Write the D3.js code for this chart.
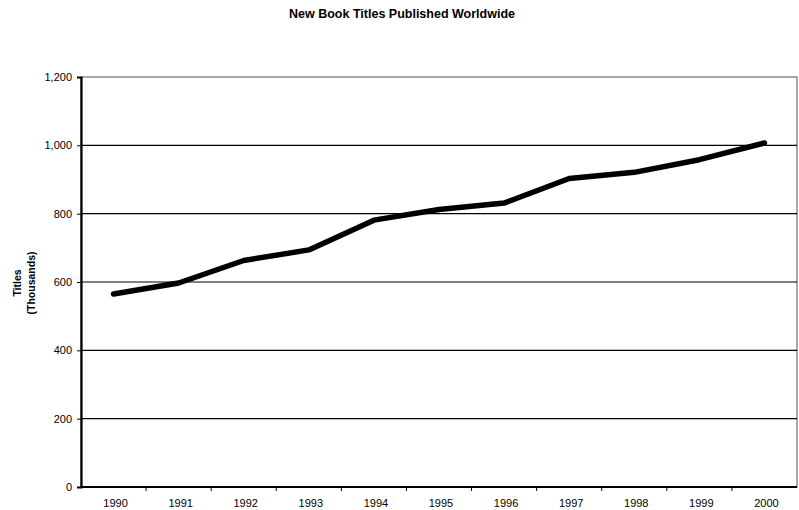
<!DOCTYPE html>
<html>
<head>
<meta charset="utf-8">
<script src="https://cdn.jsdelivr.net/npm/d3@7"></script>
<style>
body { margin: 0; background: #fff; }
text { font-family: Arial, "Liberation Sans", sans-serif; }
</style>
</head>
<body>
<div class="canvas"></div>
<script>
const years = ['1990', '1991', '1992', '1993', '1994', '1995', '1996', '1997', '1998', '1999', '2000'];
const titles = [565, 597, 663, 694, 781, 812, 831, 903, 921, 958, 1007];
const yTicks = [0, 200, 400, 600, 800, 1000, 1200];

const dim = { width: 799, height: 510 };
const margin = { top: 77, right: 2, bottom: 23, left: 81 };
const iw = dim.width - margin.left - margin.right;
const ih = dim.height - margin.top - margin.bottom;

const svg = d3.select('.canvas').append('svg')
    .attr('width', dim.width)
    .attr('height', dim.height);

svg.append('text')
    .attr('x', 402).attr('y', 18)
    .attr('text-anchor', 'middle')
    .attr('font-size', 12.5).attr('font-weight', 'bold')
    .text('New Book Titles Published Worldwide');

const graph = svg.append('g')
    .attr('transform', `translate(${margin.left}, ${margin.top})`);

const x = d3.scaleBand().domain(years).range([0, iw]);
const y = d3.scaleLinear().domain([0, 1200]).range([ih, 0]);

// frame (top and right)
graph.append('rect')
    .attr('width', iw).attr('height', ih)
    .attr('fill', 'none').attr('stroke', '#555').attr('stroke-width', 1);

// gridlines
graph.selectAll('.grid')
    .data(yTicks.filter(d => d > 0 && d < 1200))
    .enter().append('line')
    .attr('x1', 0).attr('x2', iw)
    .attr('y1', d => y(d)).attr('y2', d => y(d))
    .attr('stroke', '#000').attr('stroke-width', 1.2);

// y axis
const yAxis = d3.axisLeft(y).tickValues(yTicks).tickSize(4).tickFormat(d3.format(','));
const yg = graph.append('g').call(yAxis);
yg.select('.domain').attr('stroke-width', 2.2);
yg.selectAll('text').attr('font-size', 11).attr('x', -9);

// x axis, ticks between categories
const xg = graph.append('g').attr('transform', `translate(0, ${ih})`);
xg.append('line').attr('x1', 0).attr('x2', iw).attr('stroke', '#000').attr('stroke-width', 2.2);
xg.selectAll('.tk')
    .data(years.slice(1))
    .enter().append('line')
    .attr('x1', d => x(d)).attr('x2', d => x(d))
    .attr('y1', 0).attr('y2', 4)
    .attr('stroke', '#000');
xg.selectAll('.lbl')
    .data(years)
    .enter().append('text')
    .attr('x', d => x(d) + x.bandwidth() / 2 + 2)
    .attr('y', 20)
    .attr('text-anchor', 'middle')
    .attr('font-size', 11)
    .text(d => d);

// y label
const yl = svg.append('text')
    .attr('transform', 'translate(24, 283) rotate(-90)')
    .attr('text-anchor', 'middle')
    .attr('font-size', 10.5).attr('font-weight', 'bold');
yl.append('tspan').attr('x', 0).attr('dy', -3).text('Titles');
yl.append('tspan').attr('x', 0).attr('dy', 14).text('(Thousands)');

// line
const line = d3.line()
    .x((d, i) => x(years[i]) + x.bandwidth() / 2)
    .y(d => y(d));

graph.append('path')
    .datum(titles)
    .attr('d', line)
    .attr('fill', 'none')
    .attr('stroke', '#000')
    .attr('stroke-width', 5.5)
    .attr('stroke-linejoin', 'round')
    .attr('stroke-linecap', 'round');
</script>
</body>
</html>
